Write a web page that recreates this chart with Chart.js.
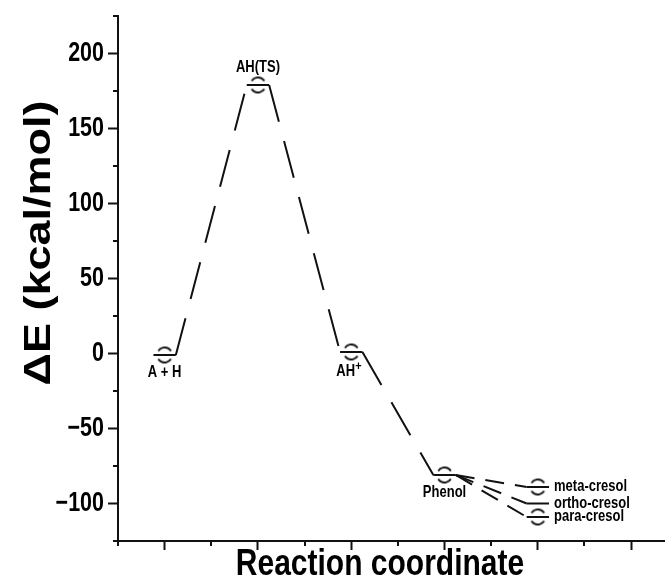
<!DOCTYPE html>
<html><head><meta charset="utf-8">
<script src="https://cdn.jsdelivr.net/npm/chart.js@4"></script>
<style>html,body{margin:0;padding:0;background:#fff;}canvas{display:block;}</style>
</head><body>
<canvas id="c" width="665" height="580"></canvas>
<script>
// ---- data ----
const stateNames = ['A + H', 'AH(TS)', 'AH+', 'Phenol'];
const stateX = [1, 2, 3, 4];
const stateE = [-1, 179, 1, -81];
const productNames = ['meta-cresol', 'ortho-cresol', 'para-cresol'];
const productX = 5;
const productE = [-89, -100, -109];
const productMarked = [true, false, true];
const yTickValues = [-100, -50, 0, 50, 100, 150, 200];
const yMinorValues = [-125, -75, -25, 25, 75, 125, 175, 225];
const xTickValues = [1, 2, 3, 4, 5, 6];
const xMinorValues = [0.5, 1.5, 2.5, 3.5, 4.5, 5.5];
const yTitle = '\u0394E (kcal/mol)';
const xTitle = 'Reaction coordinate';

// ---- style ----
const HW = 0.12;
const INK = '#111';
const TXTFONT = '"Liberation Sans", Arial, sans-serif';
const stateLabelDy = [18, -17, 20, 18];

const mainPath = [];
stateX.forEach((x, i) => { mainPath.push({x: x - HW, y: stateE[i]}); mainPath.push({x: x + HW, y: stateE[i]}); });
const lastX = stateX[stateX.length - 1], lastE = stateE[stateE.length - 1];
const productPaths = productE.map(e => [{x: lastX + HW, y: lastE}, {x: productX - HW, y: e}, {x: productX + HW, y: e}]);
const markerPts = stateX.map((x, i) => ({x, y: stateE[i]}))
  .concat(productE.map((e, i) => productMarked[i] ? {x: productX, y: e} : null).filter(Boolean));

function makeMarker(r) {
  const s = Math.ceil(2 * r + 4);
  const c = document.createElement('canvas'); c.width = s; c.height = s;
  const g = c.getContext('2d');
  g.strokeStyle = '#111'; g.lineWidth = 1.9;
  const cx = s / 2, cy = s / 2;
  g.beginPath(); g.arc(cx, cy, r, -Math.PI * 0.82, -Math.PI * 0.18); g.stroke();
  g.beginPath(); g.arc(cx, cy, r, Math.PI * 0.18, Math.PI * 0.82); g.stroke();
  return c;
}
const marker = makeMarker(7.5);

const flatOrDash = d => ctx => (ctx.p0.parsed.y === ctx.p1.parsed.y ? [] : d);

const datasets = [{
  data: mainPath, borderColor: INK, borderWidth: 2, pointRadius: 0, fill: false, tension: 0,
  segment: {borderDash: flatOrDash([38, 20])}
}].concat(productPaths.map(p => ({
  data: p, borderColor: INK, borderWidth: 2, pointRadius: 0, fill: false, tension: 0,
  segment: {borderDash: flatOrDash([19, 11])}
}))).concat([{
  data: markerPts, showLine: false, pointStyle: marker, pointRadius: 7, borderColor: '#111', backgroundColor: 'transparent'
}]);

function txt(ctx, s, px, py, size, align, sy) {
  ctx.save(); ctx.translate(px, py); ctx.scale(1, sy);
  ctx.font = 'bold ' + size + 'px ' + TXTFONT; ctx.fillStyle = '#000';
  ctx.textAlign = align; ctx.textBaseline = 'middle';
  ctx.fillText(s, 0, 0); ctx.restore();
}
const fmt = v => v < 0 ? '\u2212' + Math.abs(v) : String(v);

const annot = {
  id: 'annot',
  afterDraw(chart) {
    const {ctx, scales: {x, y}, chartArea: a} = chart;
    ctx.save();
    ctx.strokeStyle = INK; ctx.lineWidth = 2;
    yMinorValues.forEach(v => { const py = Math.round(y.getPixelForValue(v)); ctx.beginPath(); ctx.moveTo(a.left - 5, py); ctx.lineTo(a.left, py); ctx.stroke(); });
    xMinorValues.forEach(v => { const px = Math.round(x.getPixelForValue(v)); ctx.beginPath(); ctx.moveTo(px, a.bottom); ctx.lineTo(px, a.bottom + 5); ctx.stroke(); });
    // y tick labels
    yTickValues.forEach(v => { txt(ctx, fmt(v), a.left - 14, y.getPixelForValue(v), 21.5, 'right', 1.25); });
    // state labels
    stateNames.forEach((n, i) => {
      const px = x.getPixelForValue(stateX[i]), py = y.getPixelForValue(stateE[i]) + stateLabelDy[i];
      if (n.endsWith('+')) {
        const base = n.slice(0, -1);
        ctx.font = 'bold 13px ' + TXTFONT;
        const w = ctx.measureText(base).width;
        const sx = px - (w + 7) / 2 - 2;
        txt(ctx, base, sx, py, 13, 'left', 1.22);
        txt(ctx, '+', sx + w, py - 6, 11, 'left', 1.22);
      } else {
        txt(ctx, n, px, py, 13, 'center', 1.22);
      }
    });
    productNames.forEach((n, i) => {
      const px = x.getPixelForValue(productX + HW) + 5, py = y.getPixelForValue(productE[i]);
      txt(ctx, n, px, py, 13, 'left', 1.22);
    });
    // axis titles
    txt(ctx, xTitle, 380, 565, 30, 'center', 1.2);
    ctx.save(); ctx.translate(40, 243); ctx.rotate(-Math.PI / 2); ctx.scale(1.25, 1);
    ctx.font = 'bold 36px ' + TXTFONT; ctx.fillStyle = '#000'; ctx.textAlign = 'center'; ctx.textBaseline = 'middle';
    ctx.fillText(yTitle, 0, 0); ctx.restore();
    ctx.restore();
  }
};

new Chart(document.getElementById('c'), {
  type: 'line',
  data: {datasets},
  options: {
    responsive: false, animation: false, devicePixelRatio: 1,
    layout: {autoPadding: false, padding: {top: 16, left: 0, right: 0, bottom: 0}},
    plugins: {legend: {display: false}, tooltip: {enabled: false}},
    scales: {
      x: {
        type: 'linear', min: 0.5, max: 6.363,
        afterBuildTicks: s => { s.ticks = xTickValues.map(v => ({value: v})); },
        ticks: {display: false},
        grid: {drawOnChartArea: false, drawTicks: true, tickLength: 9, tickWidth: 2, tickColor: INK},
        border: {display: true, width: 2, color: INK},
        afterFit: s => { s.height = 39; }
      },
      y: {
        type: 'linear', min: -125, max: 225,
        afterBuildTicks: s => { s.ticks = yTickValues.map(v => ({value: v})); },
        ticks: {display: false},
        grid: {drawOnChartArea: false, drawTicks: true, tickLength: 10, tickWidth: 2, tickColor: INK},
        border: {display: true, width: 2, color: INK},
        afterFit: s => { s.width = 118; }
      }
    }
  },
  plugins: [annot]
});
</script>
</body></html>
